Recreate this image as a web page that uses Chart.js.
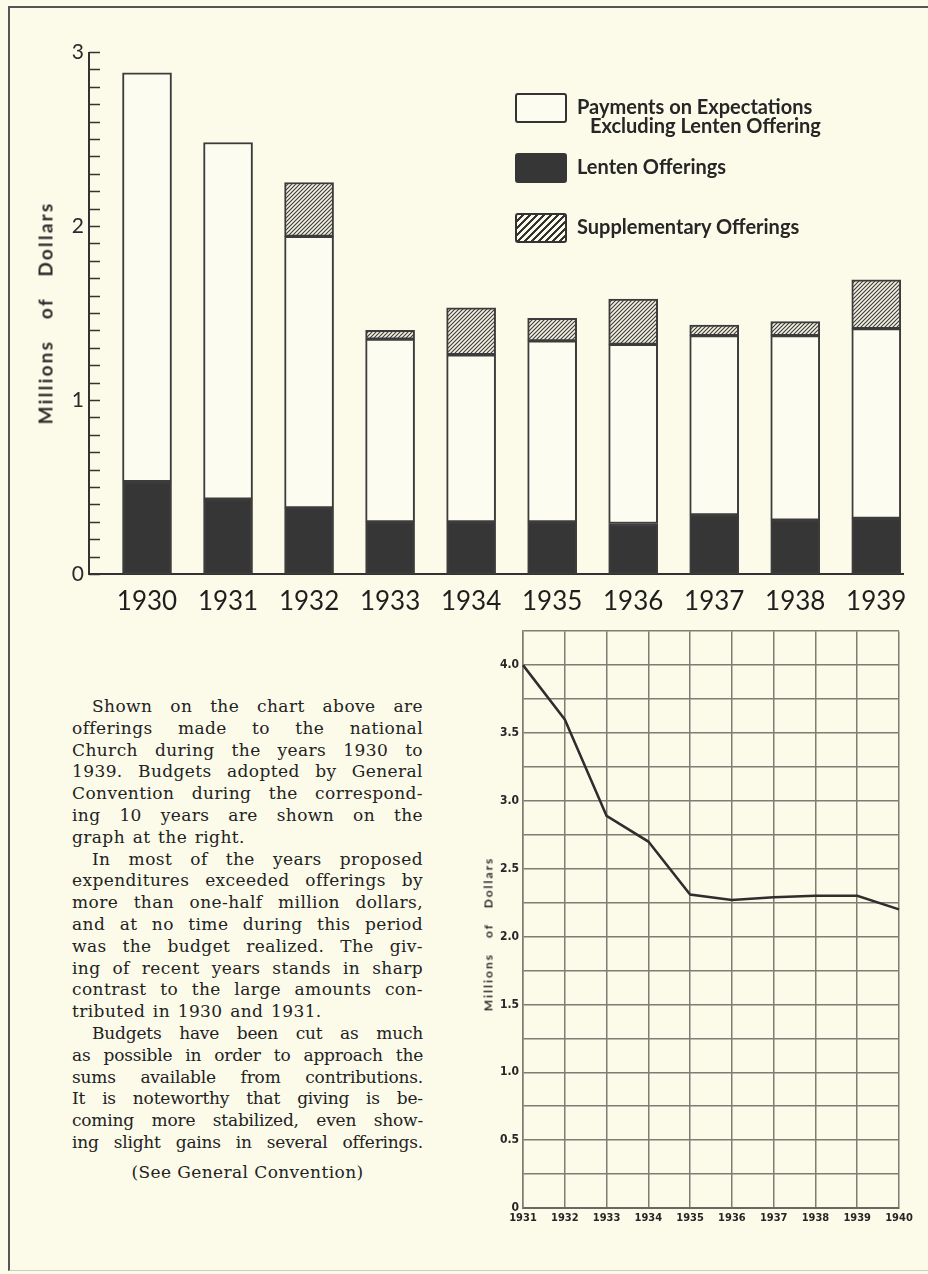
<!DOCTYPE html>
<html>
<head>
<meta charset="utf-8">
<script src="https://cdn.jsdelivr.net/npm/chart.js@4.4.1/dist/chart.umd.min.js"></script>
<style>
  html, body { margin: 0; padding: 0; }
  body { width: 928px; height: 1274px; background: #fcfbea; position: relative; overflow: hidden; color: #262626; }
  .frame { position: absolute; left: 8px; top: 6px; width: 930px; height: 1262px; border-left: 2px solid #555; border-top: 2px solid #555; border-bottom: 1px solid #cfcdbd; }
  #topChart { position: absolute; left: 0; top: 0; }
  #lowChart { position: absolute; left: 460px; top: 620px; }
  .ytitle { position: absolute; white-space: nowrap; font-family: Lato, sans-serif; font-weight: bold; transform: translate(-50%, -50%) rotate(-90deg); color: #2a2a2a; }
  #topTitle { left: 45px; top: 313px; font-size: 19px; letter-spacing: 2.2px; word-spacing: 14px; }
  #lowTitle { left: 488px; top: 934px; font-size: 12px; letter-spacing: 2px; word-spacing: 10px; }
  .legend { position: absolute; left: 515px; top: 93px; font-family: Lato, sans-serif; font-weight: bold; font-size: 20px; color: #262626; }
  .item { position: absolute; left: 0; white-space: nowrap; }
  .swatch { position: absolute; left: 0; top: 0; width: 48px; height: 26px; border: 2px solid #333; border-radius: 3px; }
  .label { position: absolute; left: 62px; top: 4px; line-height: 19px; }
  .label span { display: block; }
  .label span + span { padding-left: 13px; }
  .text { position: absolute; left: 72px; top: 696px; width: 351px; font-family: "DejaVu Serif", serif; font-size: 17px; line-height: 21.8px; color: #222; letter-spacing: 0.4px; }
  .ln { display: flex; justify-content: space-between; white-space: nowrap; }
  .ln.last { justify-content: flex-start; gap: 0.45em; }
  .ln.ind { padding-left: 20px; }
  .p3 { letter-spacing: -0.2px; }
  .see { text-align: center; margin-top: 8px; }
</style>
</head>
<body>
<div class="frame"></div>
<canvas id="topChart" width="928" height="640"></canvas>
<canvas id="lowChart" width="459" height="613"></canvas>
<div class="ytitle" id="topTitle">Millions of Dollars</div>
<div class="ytitle" id="lowTitle">Millions of Dollars</div>
<div class="legend" id="legend"></div>
<div class="text" id="text"></div>

<script>
// offerings 1930-1939, millions of dollars
const years = [1930, 1931, 1932, 1933, 1934, 1935, 1936, 1937, 1938, 1939];
const lenten = [0.53, 0.43, 0.38, 0.30, 0.30, 0.30, 0.29, 0.34, 0.31, 0.32];
const payments = [2.35, 2.05, 1.56, 1.05, 0.96, 1.04, 1.03, 1.03, 1.06, 1.09];
const supplementary = [0, 0, 0.31, 0.05, 0.27, 0.13, 0.26, 0.06, 0.08, 0.28];
const seriesNames = ['Payments on Expectations|Excluding Lenten Offering', 'Lenten Offerings', 'Supplementary Offerings'];

// budgets adopted by General Convention
const budgetYears = ['1931', '1932', '1933', '1934', '1935', '1936', '1937', '1938', '1939', '1940'];
const budgets = [4.0, 3.6, 2.89, 2.7, 2.31, 2.27, 2.29, 2.3, 2.3, 2.2];

const paper = '#fcfbea';
const ink = '#333';

function hatch(size, width) {
  const c = document.createElement('canvas');
  c.width = size; c.height = size;
  const g = c.getContext('2d');
  g.fillStyle = '#f4f2e2'; g.fillRect(0, 0, size, size);
  g.strokeStyle = '#3a3a3a'; g.lineWidth = width;
  g.beginPath();
  g.moveTo(-1, size + 1); g.lineTo(size + 1, -1);
  g.moveTo(-1, 1); g.lineTo(1, -1);
  g.moveTo(size - 1, size + 1); g.lineTo(size + 1, size - 1);
  g.stroke();
  return g.createPattern(c, 'repeat');
}

const pts = arr => arr.map((v, i) => ({ x: years[i], y: v }));

// y axis of the bar chart: line plus short ticks pointing into the plot
const innerTicks = {
  id: 'innerTicks',
  beforeDatasetsDraw(chart) {
    const { ctx, chartArea, scales: { y } } = chart;
    ctx.save();
    ctx.strokeStyle = ink;
    ctx.lineWidth = 2;
    ctx.beginPath();
    ctx.moveTo(chartArea.left, y.getPixelForValue(y.max));
    ctx.lineTo(chartArea.left, y.getPixelForValue(0));
    ctx.stroke();
    ctx.lineWidth = 1.5;
    ctx.beginPath();
    y.ticks.forEach(t => {
      const py = Math.round(y.getPixelForValue(t.value)) + 0.5;
      ctx.moveTo(chartArea.left, py);
      ctx.lineTo(chartArea.left + 11, py);
    });
    ctx.stroke();
    ctx.restore();
  }
};

const bar = {
  borderColor: '#3c3c3c',
  borderWidth: 2,
  borderSkipped: false,
  barThickness: 49
};

new Chart(document.getElementById('topChart'), {
  type: 'bar',
  data: {
    datasets: [
      Object.assign({ label: seriesNames[1], data: pts(lenten), backgroundColor: '#363636' }, bar),
      Object.assign({ label: seriesNames[0], data: pts(payments), backgroundColor: '#fdfcf1' }, bar),
      Object.assign({ label: seriesNames[2], data: pts(supplementary), backgroundColor: hatch(4, 1.1) }, bar)
    ]
  },
  options: {
    responsive: false,
    animation: false,
    layout: { padding: { top: 52, right: 25, left: 0, bottom: 0 } },
    plugins: { legend: { display: false }, tooltip: { enabled: false } },
    scales: {
      x: {
        type: 'linear',
        stacked: true,
        offset: false,
        min: 1929.284,
        max: 1939.33,
        afterBuildTicks: s => { s.ticks = years.map(v => ({ value: v })); },
        afterFit: s => { s.height = 66; },
        grid: { display: false, drawTicks: false },
        border: { display: true, color: ink, width: 2 },
        ticks: {
          callback: v => String(v),
          padding: 12,
          color: '#1e1e1e',
          font: { family: 'Lato', size: 26 },
          maxRotation: 0,
          autoSkip: false
        }
      },
      y: {
        stacked: true,
        min: 0,
        max: 3,
        afterFit: s => { s.width = 89; },
        grid: { display: false, drawTicks: false },
        border: { display: false },
        ticks: {
          stepSize: 0.1,
          autoSkip: false,
          padding: 5,
          color: '#2a2a2a',
          font: { family: 'Lato', size: 21 },
          callback: v => Math.abs(v - Math.round(v)) < 1e-6 ? String(Math.round(v)) : ''
        }
      }
    }
  },
  plugins: [innerTicks]
});

const gridCol = '#7f7d73';
const smallFont = { family: "'Liberation Sans Narrow', 'DejaVu Sans Condensed', sans-serif", size: 12, weight: 'bold' };

new Chart(document.getElementById('lowChart'), {
  type: 'line',
  data: {
    labels: budgetYears,
    datasets: [{
      data: budgets,
      borderColor: '#2e2e2e',
      borderWidth: 2.5,
      pointRadius: 0,
      tension: 0
    }]
  },
  options: {
    responsive: false,
    animation: false,
    layout: { padding: { top: 10, right: 20, left: 0, bottom: 0 } },
    plugins: { legend: { display: false }, tooltip: { enabled: false } },
    scales: {
      x: {
        offset: false,
        afterFit: s => { s.height = 25; },
        grid: { color: gridCol, lineWidth: 1.5, drawTicks: false },
        border: { color: '#6a6860', width: 2 },
        ticks: { padding: 4, color: '#262626', font: Object.assign({}, smallFont, { size: 11 }), maxRotation: 0, autoSkip: false }
      },
      y: {
        min: 0,
        max: 4.25,
        afterFit: s => { s.width = 63; },
        grid: { color: gridCol, lineWidth: 1.5, drawTicks: false },
        border: { color: gridCol, width: 1.5 },
        ticks: {
          stepSize: 0.25,
          autoSkip: false,
          padding: 4,
          color: '#262626',
          font: smallFont,
          callback: v => {
            if (Math.abs(v) < 1e-6) return '0';
            return Math.abs(v * 2 - Math.round(v * 2)) < 1e-6 ? v.toFixed(1) : '';
          }
        }
      }
    }
  }
});

// legend
const legend = document.getElementById('legend');
const swatches = [
  'background:#fdfcf1',
  'background:#363636;border-color:#363636',
  'background:repeating-linear-gradient(135deg,' + paper + ' 0 3px,#333 3px 5px)'
];
seriesNames.forEach((name, i) => {
  const item = document.createElement('div');
  item.className = 'item';
  item.style.top = (i * 60) + 'px';
  item.innerHTML = '<div class="swatch" style="' + swatches[i] + '"></div><div class="label">' +
    name.split('|').map(s => '<span>' + s + '</span>').join('') + '</div>';
  legend.appendChild(item);
});

// text column
const paras = [
  { cls: '', lines: [
    'Shown on the chart above are',
    'offerings made to the national',
    'Church during the years 1930 to',
    '1939. Budgets adopted by General',
    'Convention during the correspond-',
    'ing 10 years are shown on the',
    'graph at the right.'] },
  { cls: '', lines: [
    'In most of the years proposed',
    'expenditures exceeded offerings by',
    'more than one-half million dollars,',
    'and at no time during this period',
    'was the budget realized. The giv-',
    'ing of recent years stands in sharp',
    'contrast to the large amounts con-',
    'tributed in 1930 and 1931.'] },
  { cls: 'p3', lines: [
    'Budgets have been cut as much',
    'as possible in order to approach the',
    'sums available from contributions.',
    'It is noteworthy that giving is be-',
    'coming more stabilized, even show-',
    'ing slight gains in several offerings.'] }
];
const text = document.getElementById('text');
paras.forEach((p, pi) => {
  p.lines.forEach((line, li) => {
    const d = document.createElement('div');
    let cls = 'ln ' + p.cls;
    if (li === 0) cls += ' ind';
    if (li === p.lines.length - 1 && pi < 2) cls += ' last';
    d.className = cls;
    d.innerHTML = line.split(' ').map(w => '<span>' + w + '</span>').join('');
    text.appendChild(d);
  });
});
const see = document.createElement('div');
see.className = 'see';
see.textContent = '(See General Convention)';
text.appendChild(see);
</script>
</body>
</html>
